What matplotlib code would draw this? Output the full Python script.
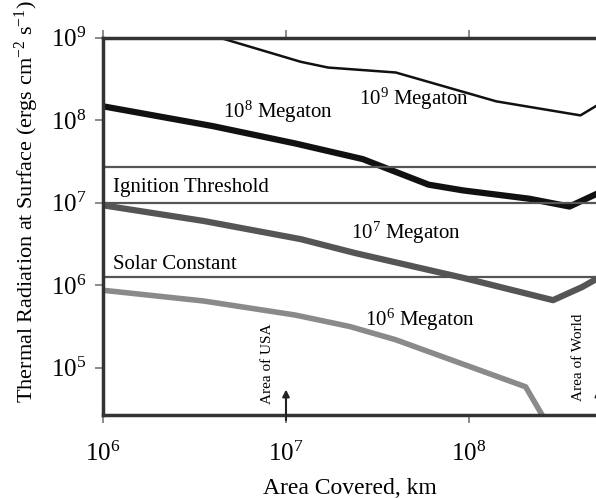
import numpy as np
import matplotlib.pyplot as plt

plt.rcParams['font.family'] = ['Liberation Serif', 'DejaVu Serif']
plt.rcParams['mathtext.fontset'] = 'custom'
plt.rcParams['mathtext.rm'] = 'Liberation Serif'
plt.rcParams['mathtext.it'] = 'Liberation Serif:italic'

# curves: log10(area), log10(radiation)
mt9_x = [6.64, 7.08, 7.23, 7.60, 8.15, 8.61, 8.70]
mt9_y = [9.00, 8.71, 8.64, 8.58, 8.23, 8.06, 8.18]

mt8_x = [6.00, 6.60, 7.05, 7.42, 7.78, 7.97, 8.33, 8.55, 8.70]
mt8_y = [8.17, 7.93, 7.72, 7.53, 7.22, 7.15, 7.05, 6.955, 7.11]

mt7_x = [6.00, 6.55, 7.08, 7.38, 7.97, 8.46, 8.62, 8.70]
mt7_y = [6.97, 6.78, 6.56, 6.39, 6.09, 5.82, 5.98, 6.08]

mt6_x = [6.00, 6.55, 7.05, 7.35, 7.60, 8.31, 8.40]
mt6_y = [5.94, 5.81, 5.64, 5.50, 5.34, 4.77, 4.43]

ignition_hi = 2.7e7
ignition_lo = 1.0e7
solar_const = 1.26e6

area_usa = 1.0e7
area_world = 5.1e8

fig = plt.figure(figsize=(5.96, 4.98), dpi=100)
ax = fig.add_axes([0.173, 0.167, 0.827, 0.757])

ax.plot(10 ** np.array(mt9_x), 10 ** np.array(mt9_y), color='#111111', lw=1.8)
ax.plot(10 ** np.array(mt8_x), 10 ** np.array(mt8_y), color='#111111', lw=4.5)
ax.plot(10 ** np.array(mt7_x), 10 ** np.array(mt7_y), color='#555555', lw=4.5)
ax.plot(10 ** np.array(mt6_x), 10 ** np.array(mt6_y), color='#8a8a8a', lw=4)

for yv in [ignition_hi, ignition_lo, solar_const]:
    ax.axhline(yv, color='#555555', lw=1.6)

ax.set_xscale('log')
ax.set_yscale('log')
ax.set_xlim(1e6, 10 ** 8.695)
ax.set_ylim(10 ** 4.43, 1e9)

fs = 15
ax.text(10 ** 6.656, 10 ** 8.107, '10$^8$ Megaton', fontsize=fs, va='center')
ax.text(10 ** 7.40, 10 ** 8.26, '10$^9$ Megaton', fontsize=fs, va='center')
ax.text(10 ** 6.055, 10 ** 7.19, 'Ignition Threshold', fontsize=fs, va='center')
ax.text(10 ** 7.355, 10 ** 6.64, '10$^7$ Megaton', fontsize=fs, va='center')
ax.text(10 ** 6.055, 10 ** 6.25, 'Solar Constant', fontsize=fs, va='center')
ax.text(10 ** 7.43, 10 ** 5.58, '10$^6$ Megaton', fontsize=fs, va='center')

ax.text(10 ** 6.90, 10 ** 5.05, 'Area of USA', fontsize=11, rotation=90,
        ha='center', va='center')
ax.text(10 ** 8.60, 10 ** 5.13, 'Area of World', fontsize=11, rotation=90,
        ha='center', va='center')

for xv in [area_usa, area_world]:
    ax.annotate('', xy=(xv, 10 ** 4.77), xytext=(xv, 10 ** 4.33),
                annotation_clip=False,
                arrowprops=dict(arrowstyle='-|>', color='#222222', lw=1.5,
                                mutation_scale=10))

ax.set_xlabel('Area Covered, km', fontsize=17, labelpad=9)
ax.set_ylabel('Thermal Radiation at Surface (ergs cm$^{-2}$ s$^{-1}$)', fontsize=16)
ax.yaxis.set_label_coords(-0.127, 0.565)

ax.spines['right'].set_visible(False)
for s in ['left', 'top', 'bottom']:
    ax.spines[s].set_linewidth(2.5)
    ax.spines[s].set_color('#333333')

ax.tick_params(which='minor', length=0)
ax.tick_params(which='major', length=6, width=1.2, color='#777777',
               labelsize=18, top=True, direction='out')
ax.tick_params(axis='x', pad=13)
ax.tick_params(axis='y', pad=6)

fig.savefig('out.png', dpi=100)
